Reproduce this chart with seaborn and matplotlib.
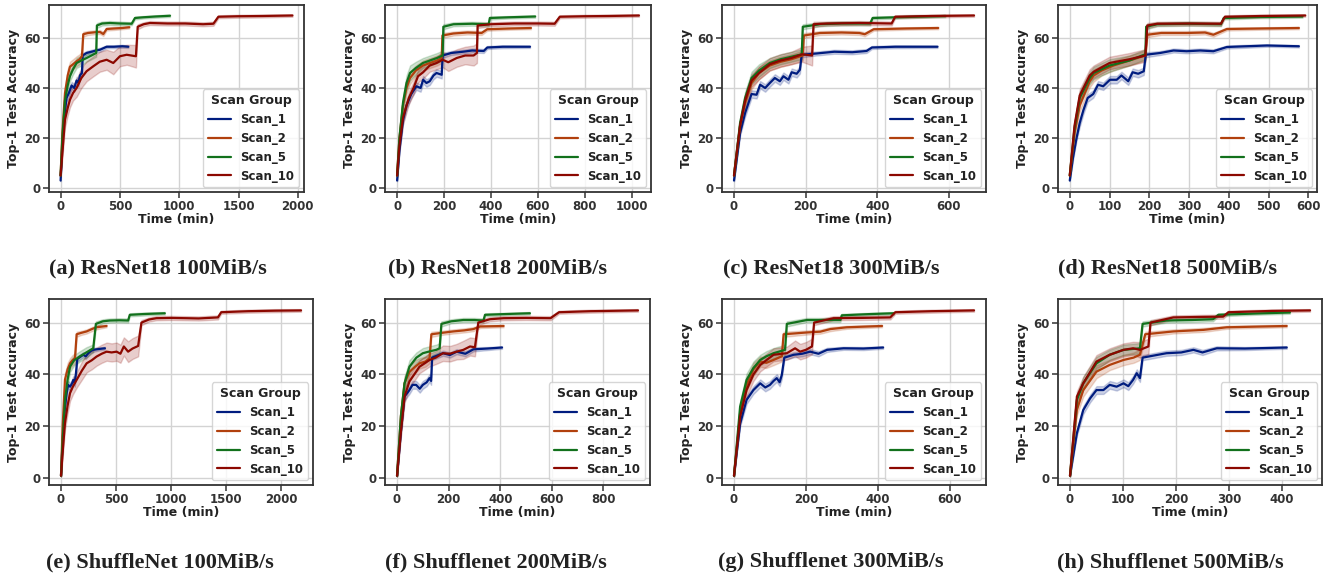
import pandas as pd
import matplotlib
matplotlib.use("Agg")
import matplotlib.pyplot as plt
import seaborn as sns
from matplotlib.ticker import MultipleLocator

# ---- data: (time in min, top-1 accuracy, band half-width) ----
SCANS = ["Scan_1", "Scan_2", "Scan_5", "Scan_10"]

CAPTIONS = [
    "(a) ResNet18 100MiB/s", "(b) ResNet18 200MiB/s",
    "(c) ResNet18 300MiB/s", "(d) ResNet18 500MiB/s",
    "(e) ShuffleNet 100MiB/s", "(f) Shufflenet 200MiB/s",
    "(g) Shufflenet 300MiB/s", "(h) Shufflenet 500MiB/s",
]
XSTEPS = [500, 200, 200, 100, 500, 200, 200, 100]

RESNET_100 = {
    "Scan_1": [(0, 3, 0.3), (15, 18, 1), (30, 28, 1.5), (50, 36, 1.5), (70, 38, 1.5), (93, 41, 1.5),
               (115, 40, 1.5), (135, 43, 1.5), (150, 42, 1.5), (163, 45, 1.5), (180, 46, 1.5),
               (186, 53, 1), (219, 54, 0.8), (260, 54.5, 0.8), (300, 55, 0.8), (332, 55.3, 0.8),
               (388, 56.5, 0.6), (450, 56.5, 0.6), (520, 56.7, 0.6), (571, 56.5, 0.5)],
    "Scan_2": [(0, 5, 0.5), (15, 22, 2), (37, 38, 2.5), (60, 45, 2.5), (79, 48.5, 2), (105, 49.5, 2),
               (135, 50.7, 2), (160, 51.5, 2), (180, 52.7, 2), (191, 61.5, 1), (230, 62, 0.8),
               (290, 62.3, 0.8), (332, 62.4, 0.8), (360, 61.6, 0.8), (388, 63.6, 0.6),
               (450, 63.8, 0.6), (520, 64, 0.5), (579, 64.3, 0.5)],
    "Scan_5": [(0, 5, 0.5), (15, 20, 2), (37, 35, 2.5), (60, 41, 2.5), (79, 44.7, 2), (105, 47.5, 2),
               (135, 50, 2), (175, 51, 2), (219, 52, 1.5), (260, 53, 1.5), (300, 54, 1.5),
               (306, 65, 1), (350, 65.8, 0.8), (416, 66, 0.8), (500, 65.8, 0.8), (599, 65.7, 0.6),
               (627, 68, 0.6), (700, 68.3, 0.5), (800, 68.6, 0.5), (922, 68.9, 0.5)],
    "Scan_10": [(0, 5, 0.5), (15, 14, 2), (37, 27.3, 3), (60, 32, 3), (79, 35.3, 3), (105, 38, 3),
                (135, 40, 3.5), (175, 44, 4), (219, 46.7, 4), (276, 48.7, 4), (330, 50.5, 4),
                (388, 51.3, 4), (444, 50, 4.5), (500, 52.7, 4), (557, 53.3, 4), (635, 52.7, 4.5),
                (650, 64.5, 1), (700, 65.5, 0.8), (753, 66, 0.8), (900, 65.8, 0.8), (1050, 65.8, 0.8),
                (1200, 65.5, 0.8), (1288, 65.7, 0.8), (1330, 68.5, 0.6), (1500, 68.7, 0.6),
                (1700, 68.8, 0.6), (1954, 69, 0.5)],
}

RESNET_200 = {
    "Scan_1": [(0, 3, 0.3), (10, 15, 1), (25, 27, 1.5), (40, 33, 1.5), (60, 37.5, 1.5), (82, 40.7, 1.5),
               (100, 40, 1.5), (111, 43.3, 1.5), (125, 42, 1.5), (139, 42.7, 1.5), (155, 45, 1.5),
               (168, 46, 1.5), (190, 45.3, 1.5), (194, 53, 1), (230, 54, 0.8), (280, 54.5, 0.8),
               (320, 55, 0.8), (369, 54.8, 0.8), (384, 56.2, 0.6), (450, 56.5, 0.6), (566, 56.5, 0.5)],
    "Scan_2": [(0, 5, 0.5), (10, 20, 2), (25, 33, 2.5), (40, 40, 2.5), (55, 44, 2.5), (80, 47, 2),
               (110, 49, 2), (140, 50, 2), (170, 51, 2), (190, 52, 2), (193, 61, 1), (240, 61.8, 0.8),
               (300, 62.2, 0.8), (360, 62, 0.8), (384, 63.5, 0.6), (480, 63.8, 0.5), (570, 64, 0.5)],
    "Scan_5": [(0, 5, 0.5), (10, 20, 2), (25, 34, 2.5), (40, 42, 3), (55, 46, 3), (80, 48, 2.5),
               (110, 50, 2), (140, 51, 2), (170, 52, 2), (194, 53, 2), (197, 64.5, 1), (240, 65.5, 0.8),
               (320, 65.7, 0.8), (390, 65.5, 0.8), (395, 68, 0.6), (480, 68.3, 0.5), (588, 68.6, 0.5)],
    "Scan_10": [(0, 5, 0.5), (10, 17, 2), (25, 28, 2.5), (50, 36, 2.5), (70, 40, 2.5), (89, 44.7, 2.5),
                (111, 46.3, 2.5), (139, 49, 2.5), (168, 50, 2.5), (194, 51.3, 3), (218, 50.3, 3.5),
                (254, 52, 3.5), (290, 53, 3.5), (326, 53, 4), (340, 54, 4), (343, 65, 1),
                (400, 65.5, 0.8), (500, 65.8, 0.8), (600, 65.8, 0.8), (671, 65.7, 0.8),
                (693, 68.5, 0.6), (800, 68.7, 0.6), (900, 68.8, 0.6), (1030, 69, 0.5)],
}

RESNET_300 = {
    "Scan_1": [(0, 3, 0.3), (17, 22, 1), (31, 30, 1.5), (49, 37.6, 1.5), (63, 37.3, 1.5), (73, 41.3, 1.5),
               (87, 40, 1.5), (100, 42, 1.5), (114, 44, 1.5), (128, 42.7, 1.5), (138, 44.7, 1.5),
               (152, 43.3, 1.5), (161, 46.3, 1.5), (175, 45.7, 1.5), (184, 47.3, 1.5), (189, 53.3, 1),
               (230, 53.8, 0.8), (280, 54.5, 0.8), (330, 54.3, 0.8), (370, 54.8, 0.8), (385, 56.2, 0.6),
               (450, 56.5, 0.6), (568, 56.5, 0.5)],
    "Scan_2": [(0, 5, 0.5), (17, 25, 2), (31, 34, 2.5), (49, 42, 2.5), (70, 46, 2.5), (100, 49, 2),
               (130, 50.5, 2), (160, 51.5, 2), (192, 53, 2), (195, 61, 1), (240, 62, 0.8),
               (300, 62.2, 0.8), (350, 62, 0.8), (365, 61.5, 0.8), (390, 63.5, 0.6), (480, 63.8, 0.5),
               (570, 64, 0.5)],
    "Scan_5": [(0, 5, 0.5), (17, 26, 2), (31, 36, 2.5), (49, 44, 2.5), (70, 47, 2.5), (100, 50, 2),
               (130, 51.5, 2), (160, 52.5, 2), (189, 53.5, 2), (192, 64.5, 1), (240, 65.5, 0.8),
               (300, 65.8, 0.8), (380, 65.8, 0.8), (387, 68, 0.6), (480, 68.4, 0.5), (590, 68.8, 0.5)],
    "Scan_10": [(0, 5, 0.5), (17, 25, 2), (31, 35, 2.5), (49, 43, 2.5), (70, 46, 2.5), (100, 49.5, 2.5),
                (130, 51, 2.5), (160, 52, 2.5), (190, 53.5, 3), (218, 53, 4), (222, 65.5, 1),
                (260, 65.8, 0.8), (350, 66, 0.8), (440, 65.8, 0.8), (450, 68.5, 0.6), (550, 68.8, 0.6),
                (670, 69, 0.5)],
}

RESNET_500 = {
    "Scan_1": [(0, 3, 0.3), (8, 12, 1), (17, 20, 1), (25, 26, 1.5), (34, 31, 1.5), (45, 36, 1.5),
               (59, 37.6, 1.5), (71, 41.3, 1.5), (84, 40.7, 1.5), (101, 43.3, 1.5), (118, 43.3, 1.5),
               (130, 45, 1.5), (147, 42.7, 1.5), (158, 46.3, 1.5), (172, 45.7, 1.5), (186, 46.7, 1.5),
               (191, 53.3, 1), (227, 54, 0.8), (261, 55, 0.8), (294, 54.7, 0.8), (328, 55, 0.8),
               (361, 54.7, 0.8), (395, 56.4, 0.6), (445, 56.7, 0.6), (496, 57, 0.5), (576, 56.7, 0.5)],
    "Scan_2": [(0, 5, 0.5), (12, 22, 2), (25, 33, 2.5), (50, 42.7, 2.5), (60, 45, 2.5), (80, 47, 2),
               (110, 49, 2), (140, 50.5, 2), (170, 52, 2), (190, 53, 2), (195, 61.3, 1), (230, 62, 0.8),
               (294, 62, 0.8), (340, 62.2, 0.8), (361, 61.3, 0.8), (395, 63.6, 0.6), (480, 63.8, 0.5),
               (576, 64, 0.5)],
    "Scan_5": [(0, 5, 0.5), (12, 24, 2), (25, 36, 2.5), (50, 44, 2.5), (60, 46, 2.5), (100, 49, 2.5),
               (150, 51, 2), (190, 53.5, 2), (192, 64.5, 1), (220, 65.5, 0.8), (300, 65.7, 0.8),
               (380, 65.5, 0.8), (387, 68, 0.6), (480, 68.4, 0.5), (585, 68.6, 0.5)],
    "Scan_10": [(0, 5, 0.5), (12, 25, 2), (25, 37, 2.5), (50, 45, 2.5), (60, 46.5, 2.5), (100, 50, 2.5),
                (150, 51.5, 2.5), (190, 53, 2.5), (195, 65, 1), (220, 65.7, 0.8), (300, 65.8, 0.8),
                (380, 65.7, 0.8), (390, 68.5, 0.6), (480, 68.8, 0.6), (592, 69, 0.5)],
}

SHUFFLE_100 = {
    "Scan_1": [(0, 1, 0.3), (15, 15, 1), (30, 25, 1.5), (51, 32.8, 1.5), (65, 36, 1.5), (82, 35.3, 1.5),
               (100, 36.5, 1.5), (112, 37.9, 1.5), (125, 36.8, 1.5), (136, 40.5, 1.5), (148, 46, 1),
               (175, 46.8, 1), (202, 47.6, 1), (225, 47, 1), (248, 48.2, 1), (270, 49, 0.8),
               (293, 49.5, 0.8), (340, 49.8, 0.6), (399, 50.1, 0.5)],
    "Scan_2": [(0, 1, 0.3), (15, 20, 2), (36, 38, 2.5), (60, 42, 2.5), (82, 44.3, 2), (105, 45.5, 2),
               (127, 46.3, 2), (142, 55.5, 1), (180, 56, 0.8), (233, 56.6, 0.8), (280, 57.5, 0.8),
               (323, 58.2, 0.8), (414, 58.7, 0.5)],
    "Scan_5": [(0, 1, 0.3), (15, 14, 2), (36, 30, 2.5), (60, 38, 2.5), (82, 43, 2), (120, 45.5, 2),
               (172, 47, 2), (230, 48.5, 2), (293, 50.1, 1.5), (317, 59.5, 1), (380, 60.5, 0.8),
               (444, 60.8, 0.8), (530, 60.9, 0.8), (610, 60.8, 0.8), (625, 63, 0.6), (750, 63.3, 0.6),
               (943, 63.6, 0.5)],
    "Scan_10": [(0, 1, 0.3), (15, 10, 2), (36, 21.2, 2.5), (60, 28, 3), (82, 32.8, 3), (110, 35.5, 3),
                (142, 37.9, 3), (190, 41.5, 3.5), (233, 44.3, 3.5), (280, 45.5, 3.5), (323, 46.9, 3.5),
                (370, 48, 3.5), (414, 48.8, 3.5), (460, 48.5, 3.5), (505, 48.8, 3.5), (540, 48, 3.5),
                (571, 50.8, 3.5), (610, 48.8, 4), (650, 50, 4), (701, 51, 4), (731, 60, 1),
                (800, 61.2, 0.8), (867, 61.7, 0.8), (1000, 61.8, 0.8), (1139, 61.7, 0.8),
                (1250, 61.6, 0.8), (1426, 62, 0.8), (1456, 64, 0.6), (1700, 64.4, 0.6),
                (1950, 64.6, 0.6), (2181, 64.7, 0.5)],
}

SHUFFLE_200 = {
    "Scan_1": [(0, 1, 0.3), (15, 18, 1), (29, 31.5, 1.5), (48, 34, 1.5), (60, 36, 1.5), (74, 36, 1.5),
               (88, 34.5, 1.5), (100, 36, 1.5), (115, 37, 1.5), (126, 38.6, 1.5), (132, 37.5, 1.5),
               (136, 46.5, 1), (178, 48.2, 1), (205, 47.5, 1), (231, 48.8, 1), (265, 48, 1),
               (296, 49.7, 0.8), (350, 50, 0.6), (407, 50.4, 0.5)],
    "Scan_2": [(0, 1, 0.3), (15, 24, 2), (29, 36.6, 2.5), (48, 41, 2.5), (70, 43, 2.5), (87, 44.3, 2),
               (110, 45, 2), (126, 46.3, 2), (133, 55.5, 1), (170, 56, 0.8), (218, 56.6, 0.8),
               (260, 57, 0.8), (296, 57.5, 0.8), (322, 58.5, 0.6), (413, 58.7, 0.5)],
    "Scan_5": [(0, 1, 0.3), (15, 24, 2), (29, 36.6, 2.5), (48, 43, 2.5), (75, 46.5, 2), (100, 48.2, 2),
               (130, 49, 2), (152, 49.5, 2), (165, 50.1, 2), (172, 59.5, 1), (210, 60.5, 0.8),
               (257, 61, 0.8), (300, 61, 0.8), (335, 60.8, 0.8), (341, 63, 0.6), (420, 63.3, 0.5),
               (515, 63.6, 0.5)],
    "Scan_10": [(0, 1, 0.3), (15, 18, 2), (29, 31.5, 2.5), (48, 37.3, 2.5), (70, 40.5, 2.5), (87, 43, 2.5),
                (110, 44.5, 2.5), (126, 45.6, 2.5), (150, 46.5, 2.5), (178, 48.2, 3), (205, 48, 3),
                (231, 48.8, 3), (257, 49.5, 3.5), (283, 50.8, 3.5), (302, 50.5, 3.5), (315, 60, 1),
                (360, 61.3, 0.8), (413, 61.7, 0.8), (500, 61.8, 0.8), (595, 61.7, 0.8), (628, 64, 0.6),
                (750, 64.4, 0.6), (934, 64.7, 0.5)],
}

SHUFFLE_300 = {
    "Scan_1": [(0, 1, 0.3), (17, 21, 1), (35, 30.2, 1.5), (54, 34, 1.5), (73, 36.6, 1.5), (87, 35, 1.5),
               (100, 36, 1.5), (110, 37.5, 1.5), (119, 38.6, 1.5), (127, 37, 1.5), (133, 39.8, 1.5),
               (140, 46.5, 1), (166, 47.6, 1), (190, 48, 1), (212, 48.8, 1), (235, 48, 1),
               (259, 49.5, 0.8), (305, 50.1, 0.6), (360, 50, 0.6), (415, 50.4, 0.5)],
    "Scan_2": [(0, 1, 0.3), (17, 25, 2), (35, 36, 2.5), (54, 42, 2.5), (73, 45, 2), (90, 44.5, 2),
               (110, 45.6, 2), (133, 47, 2), (138, 55.5, 1), (203, 56.2, 0.8), (240, 56.5, 0.8),
               (268, 57.5, 0.8), (314, 58.2, 0.6), (412, 58.7, 0.5)],
    "Scan_5": [(0, 1, 0.3), (17, 27.6, 2), (35, 37.9, 2.5), (54, 42.5, 2.5), (73, 45.6, 2), (90, 47, 2),
               (110, 48.2, 2), (142, 49.5, 2), (147, 59.5, 1), (203, 61, 0.8), (250, 61, 0.8),
               (296, 61, 0.8), (300, 62.8, 0.6), (380, 63.3, 0.5), (445, 63.6, 0.5)],
    "Scan_10": [(0, 1, 0.3), (17, 23.8, 2), (35, 34, 2.5), (54, 40, 2.5), (73, 43.7, 2.5), (90, 45.5, 2.5),
                (110, 47.6, 2.5), (147, 48.2, 2.5), (170, 50.1, 3), (184, 48.8, 3), (200, 49.5, 3),
                (217, 50.8, 3), (223, 60, 1), (277, 61.7, 0.8), (350, 61.8, 0.8), (435, 62, 0.8),
                (449, 64, 0.6), (550, 64.4, 0.6), (668, 64.7, 0.5)],
}

SHUFFLE_500 = {
    "Scan_1": [(0, 1, 0.3), (13, 17.4, 1), (25, 26.3, 1.5), (38, 30.8, 1.5), (50, 34, 1.5), (63, 34, 1.5),
               (75, 36, 1.5), (88, 35.3, 1.5), (101, 36.6, 1.5), (110, 35.5, 1.5), (119, 37.9, 1.5),
               (126, 40.5, 1.5), (132, 38.6, 1.5), (137, 46.5, 1), (182, 48.2, 1), (210, 48.5, 1),
               (233, 49.5, 1), (250, 48.5, 1), (277, 50.1, 0.8), (330, 50, 0.6), (409, 50.4, 0.5)],
    "Scan_2": [(0, 1, 0.3), (13, 26.3, 2), (25, 34, 2.5), (50, 41.1, 2.5), (75, 43.7, 2), (101, 45.6, 2),
               (120, 46.5, 2), (132, 47.6, 2), (142, 55.5, 1), (195, 56.6, 0.8), (252, 57.2, 0.8),
               (296, 58.2, 0.6), (409, 58.7, 0.5)],
    "Scan_5": [(0, 1, 0.3), (13, 30.2, 2), (25, 36.6, 2.5), (50, 44.3, 2.5), (75, 47.6, 2), (101, 49.5, 2),
               (132, 50.1, 2), (137, 59.5, 1), (182, 60.8, 0.8), (230, 61, 0.8), (270, 61.3, 0.8),
               (280, 63, 0.6), (350, 63.5, 0.5), (415, 63.9, 0.5)],
    "Scan_10": [(0, 1, 0.3), (13, 31.5, 2), (25, 36.6, 2.5), (50, 45, 2.5), (75, 47.6, 2.5), (101, 49.5, 2.5),
                (119, 50.1, 2.5), (132, 49.5, 3), (148, 50.8, 3), (152, 60, 1), (195, 62, 0.8),
                (250, 62.2, 0.8), (289, 62.3, 0.8), (299, 64, 0.6), (380, 64.5, 0.6), (453, 64.7, 0.5)],
}

PANELS = [RESNET_100, RESNET_200, RESNET_300, RESNET_500,
          SHUFFLE_100, SHUFFLE_200, SHUFFLE_300, SHUFFLE_500]

# axes boxes in pixels (left, right), per row (top, bottom)
W, H = 1331, 577
X_SPANS = [(49, 304), (385, 651), (722, 986), (1058, 1317),
           (49, 313), (385, 650), (722, 986), (1058, 1322)]
ROWS = [(5, 192), (299, 485)]
YLIMS = [(-1.6, 73.2), (-2.6, 69.1)]
CAPTION_X = [158, 497, 831, 1167, 160, 496, 831, 1170]
CAPTION_Y = [268, 562]


def to_long(panel):
    # band edges and centre as three samples per time, so seaborn draws mean + min/max band
    rows = []
    for scan, pts in panel.items():
        for t, acc, err in pts:
            for v in (acc - err, acc, acc + err):
                rows.append((scan, t, v))
    return pd.DataFrame(rows, columns=["Scan Group", "Time (min)", "Top-1 Test Accuracy"])


sns.set_theme(style="whitegrid", palette="dark", rc={
    "axes.edgecolor": "#333333",
    "axes.linewidth": 1.3,
    "grid.color": "#d3d3d3",
    "grid.linewidth": 1.0,
    "xtick.bottom": True,
    "ytick.left": True,
    "xtick.color": "#333333",
    "ytick.color": "#333333",
    "xtick.major.size": 4,
    "ytick.major.size": 4,
    "xtick.major.width": 1.1,
    "ytick.major.width": 1.1,
    "font.weight": "bold",
    "axes.labelweight": "bold",
    "axes.labelcolor": "#222222",
    "text.color": "#222222",
})
plt.rcParams["font.family"] = ["DejaVu Sans"]

colors = sns.color_palette("dark", 4)
fig = plt.figure(figsize=(W / 100, H / 100), dpi=100)

for i, panel in enumerate(PANELS):
    row = i // 4
    x0, x1 = X_SPANS[i]
    top, bot = ROWS[row]
    ax = fig.add_axes([x0 / W, 1 - bot / H, (x1 - x0) / W, (bot - top) / H])
    df = to_long(panel)
    sns.lineplot(data=df, x="Time (min)", y="Top-1 Test Accuracy", hue="Scan Group",
                 hue_order=SCANS, palette=colors, errorbar=("pi", 100),
                 linewidth=1.6, ax=ax)
    ax.set_ylim(*YLIMS[row])
    ax.yaxis.set_major_locator(MultipleLocator(20))
    ax.xaxis.set_major_locator(MultipleLocator(XSTEPS[i]))
    ax.tick_params(labelsize=8.5, pad=2)
    ax.set_xlabel("Time (min)", fontsize=9, labelpad=0)
    ax.set_ylabel("Top-1 Test Accuracy", fontsize=9, labelpad=3)
    sns.move_legend(ax, "lower right", title="Scan Group", fontsize=8.5,
                    title_fontsize=9, frameon=True, borderaxespad=0.4)
    leg = ax.get_legend()
    leg.get_title().set_fontweight("bold")
    leg.get_frame().set_edgecolor("#cccccc")
    for line in leg.get_lines():
        line.set_linewidth(1.6)

    fig.text(CAPTION_X[i] / W, 1 - CAPTION_Y[row] / H, CAPTIONS[i], ha="center", va="center",
             fontsize=16, fontweight="bold", family=["Liberation Serif", "DejaVu Serif"])

fig.savefig("out.png", dpi=100)
